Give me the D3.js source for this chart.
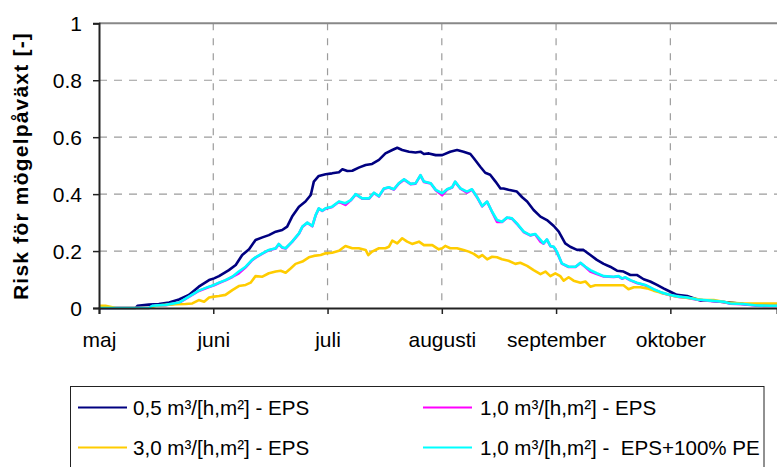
<!DOCTYPE html>
<html>
<head>
<meta charset="utf-8">
<script src="https://cdn.jsdelivr.net/npm/d3@7/dist/d3.min.js"></script>
<style>
  html, body { margin: 0; padding: 0; background: #fff; }
  svg { display: block; }
  text { font-family: "Liberation Sans", Arial, sans-serif; fill: #000; }
</style>
</head>
<body>
<svg id="chart" width="777" height="467"></svg>
<script>
// Daily mould-growth risk, May through October; day 0 = 1 May.
const monthLabels = ["maj", "juni", "juli", "augusti", "september", "oktober"];
const monthStartDays = [0, 30, 60, 90, 120, 150];
const yTicks = [0, 0.2, 0.4, 0.6, 0.8, 1];

const seriesNames = [
  "0,5 m³/[h,m²] - EPS",
  "1,0 m³/[h,m²] - EPS",
  "3,0 m³/[h,m²] - EPS",
  "1,0 m³/[h,m²] -  EPS+100% PE"
];
const seriesColors = ["#000080", "#ff00ff", "#ffcc00", "#00ffff"];

// [day, risk]
const eps05 = [[0,0],[9.6,0],[10.1,0.008],[13.1,0.012],[15.7,0.014],[18.4,0.019],[21,0.030],[23.6,0.046],[26.2,0.075],[28.9,0.098],[30.2,0.104],[31.5,0.112],[34.1,0.133],[35.9,0.151],[37.6,0.186],[39.4,0.206],[41.1,0.239],[42.9,0.248],[44.6,0.256],[46.4,0.268],[48.1,0.274],[49.4,0.286],[50.7,0.321],[52.5,0.356],[54.2,0.374],[55.6,0.397],[56.4,0.444],[57.7,0.464],[59.5,0.470],[61.2,0.473],[63,0.477],[63.9,0.487],[65.2,0.481],[66.5,0.482],[68.2,0.493],[70,0.502],[71.7,0.506],[73.5,0.520],[75.2,0.543],[77,0.555],[78.3,0.563],[79.6,0.555],[81.4,0.549],[83.1,0.546],[84.4,0.549],[85.3,0.541],[86.6,0.543],[88.4,0.537],[90.1,0.537],[92.2,0.549],[94,0.555],[95.7,0.549],[97.5,0.541],[98.4,0.526],[100.1,0.496],[101.4,0.475],[102.7,0.468],[104.1,0.444],[105.4,0.420],[106.2,0.420],[107.5,0.415],[109.7,0.409],[111.1,0.389],[112.4,0.374],[114.1,0.344],[115.9,0.321],[117.6,0.309],[119.4,0.288],[120.7,0.268],[122.4,0.227],[123.7,0.215],[125.5,0.204],[127.2,0.204],[129,0.186],[130.7,0.169],[132.5,0.155],[134.2,0.145],[136,0.131],[137.7,0.128],[139.5,0.116],[141.2,0.116],[143,0.101],[144.7,0.093],[146.5,0.081],[148.2,0.069],[150,0.057],[151.7,0.046],[154.4,0.042],[156.1,0.034],[157.9,0.026],[160.5,0.026],[163.1,0.022],[165.7,0.019],[169.2,0.014],[172.7,0.011],[176.2,0.008],[178,0.008]];

const eps10 = [[0,0],[13.1,0],[14,0.007],[17.5,0.010],[21,0.018],[23.6,0.039],[26.2,0.060],[28.9,0.074],[30.2,0.080],[31.5,0.088],[33.2,0.097],[35,0.109],[36.7,0.122],[38.5,0.143],[40.2,0.168],[41.1,0.177],[42.9,0.191],[44.6,0.203],[46.4,0.209],[47.2,0.224],[48.1,0.212],[49,0.209],[50.7,0.232],[52.5,0.261],[53.4,0.285],[54.7,0.299],[56,0.287],[56.9,0.326],[57.7,0.349],[58.6,0.341],[59.5,0.349],[61.2,0.355],[63,0.373],[64.7,0.362],[66.1,0.378],[67.4,0.399],[69.1,0.384],[70.9,0.384],[72.2,0.404],[73.5,0.392],[74.8,0.419],[76.1,0.423],[77.4,0.416],[78.7,0.437],[80.1,0.451],[81.8,0.435],[83.1,0.437],[84.4,0.466],[85.3,0.443],[87.1,0.437],[88.4,0.414],[90.1,0.396],[91.4,0.416],[92.7,0.423],[93.5,0.443],[94.9,0.419],[96.6,0.405],[97.9,0.416],[99.2,0.390],[100.6,0.357],[101.9,0.373],[103.2,0.337],[104.5,0.302],[105.8,0.302],[107.1,0.317],[108.4,0.314],[109.7,0.296],[111.5,0.267],[113.2,0.255],[114.5,0.259],[115.9,0.233],[116.7,0.226],[117.6,0.240],[118.5,0.217],[119.4,0.214],[120.2,0.197],[121.5,0.156],[123.3,0.144],[125.1,0.144],[126.4,0.158],[127.7,0.144],[129,0.128],[130.7,0.119],[132.5,0.111],[135.1,0.109],[136.4,0.111],[137.3,0.103],[138.2,0.107],[139.5,0.097],[141.2,0.088],[143.4,0.080],[145.6,0.065],[147.8,0.053],[150,0.045],[152.2,0.039],[154.4,0.036],[157,0.029],[160.5,0.025],[164,0.021],[165.7,0.015],[169.2,0.013],[172.7,0.008],[176.2,0.007],[178,0.007]];

const eps30 = [[0,0.008],[1.7,0.008],[4.4,0],[13.1,0],[14.9,0.008],[17.5,0.011],[20.1,0.013],[22.7,0.014],[24.5,0.016],[26.2,0.028],[27.6,0.022],[28.9,0.037],[30.2,0.040],[31.5,0.042],[33.2,0.046],[35,0.063],[36.7,0.077],[38.5,0.081],[39.8,0.089],[41.1,0.112],[42.9,0.110],[44.6,0.122],[46.4,0.128],[47.7,0.131],[49,0.124],[50.3,0.139],[51.6,0.155],[53.4,0.163],[55.1,0.178],[56.4,0.183],[58.2,0.186],[59.5,0.192],[61.2,0.194],[63,0.201],[64.7,0.218],[66.5,0.210],[68.2,0.210],[70,0.204],[70.7,0.186],[71.7,0.198],[73.5,0.210],[75.2,0.210],[76.1,0.215],[77,0.237],[78.3,0.227],[79.6,0.245],[80.9,0.233],[82.2,0.225],[84,0.233],[85.3,0.221],[87.5,0.221],[89.2,0.206],[90.1,0.210],[90.9,0.218],[92.2,0.210],[94,0.210],[95.7,0.204],[97.1,0.198],[98.4,0.190],[99.7,0.178],[100.6,0.186],[101.9,0.171],[103.2,0.180],[104.5,0.178],[105.8,0.171],[107.5,0.166],[109.3,0.155],[110.6,0.159],[112.4,0.148],[114.1,0.133],[115.9,0.119],[117.2,0.128],[118.5,0.112],[119.8,0.122],[121.1,0.112],[122,0.096],[123.3,0.108],[124.6,0.096],[126.4,0.089],[127.7,0.093],[129,0.075],[130.3,0.080],[132.5,0.080],[135.1,0.080],[137.7,0.080],[139,0.066],[140.4,0.073],[142.1,0.073],[143.9,0.069],[145.6,0.061],[147.4,0.054],[149.1,0.048],[150.9,0.042],[153.5,0.037],[156.1,0.033],[158.7,0.028],[161.4,0.028],[164.9,0.019],[169.2,0.016],[172.7,0.016],[178,0.016]];

const eps10pe = [[0,0],[13.1,0],[14,0.008],[17.5,0.011],[21,0.019],[23.6,0.040],[26.2,0.061],[28.9,0.075],[30.2,0.081],[31.5,0.089],[33.2,0.098],[35,0.110],[36.7,0.128],[38.5,0.145],[40.2,0.169],[41.1,0.178],[42.9,0.192],[44.6,0.204],[46.4,0.210],[47.2,0.225],[48.1,0.213],[49,0.210],[50.7,0.233],[52.5,0.262],[53.4,0.286],[54.7,0.300],[56,0.288],[56.9,0.327],[57.7,0.350],[58.6,0.342],[59.5,0.350],[61.2,0.356],[63,0.374],[64.7,0.368],[66.1,0.379],[67.4,0.400],[69.1,0.385],[70.9,0.385],[72.2,0.405],[73.5,0.393],[74.8,0.420],[76.1,0.424],[77.4,0.417],[78.7,0.438],[80.1,0.452],[81.8,0.436],[83.1,0.438],[84.4,0.467],[85.3,0.444],[87.1,0.438],[88.4,0.415],[90.1,0.403],[91.4,0.417],[92.7,0.424],[93.5,0.444],[94.9,0.420],[96.6,0.409],[97.9,0.417],[99.2,0.391],[100.6,0.358],[101.9,0.374],[103.2,0.338],[104.5,0.309],[105.8,0.303],[107.1,0.318],[108.4,0.315],[109.7,0.297],[111.5,0.268],[113.2,0.256],[114.5,0.260],[115.9,0.239],[116.7,0.227],[117.6,0.241],[118.5,0.218],[119.4,0.215],[120.2,0.198],[121.5,0.157],[123.3,0.145],[125.1,0.145],[126.4,0.159],[127.7,0.145],[129,0.133],[130.7,0.122],[132.5,0.112],[135.1,0.110],[136.4,0.112],[137.3,0.104],[138.2,0.108],[139.5,0.098],[141.2,0.089],[143.4,0.081],[145.6,0.066],[147.8,0.054],[150,0.046],[152.2,0.040],[154.4,0.037],[157,0.030],[160.5,0.026],[164,0.022],[165.7,0.016],[169.2,0.014],[172.7,0.009],[176.2,0.008],[178,0.008]];

// drawing order: navy first, cyan last on top
const seriesData = [eps05, eps10, eps30, eps10pe];

const svg = d3.select("#chart");
const plotLeft = 99, plotRight = 777, plotTop = 23.3, plotBottom = 308;

const x = d3.scaleLinear().domain([0, 178]).range([plotLeft, plotRight]);
const y = d3.scaleLinear().domain([0, 1]).range([plotBottom, plotTop]);

// horizontal gridlines
svg.append("g")
  .selectAll("line")
  .data(yTicks.filter(v => v > 0 && v < 1))
  .join("line")
  .attr("x1", plotLeft).attr("x2", plotRight)
  .attr("y1", d => y(d)).attr("y2", d => y(d))
  .attr("stroke", "#9c9c9c").attr("stroke-width", 1.2)
  .attr("stroke-dasharray", "8,7");

// vertical gridlines at month starts
svg.append("g")
  .selectAll("line")
  .data(monthStartDays.slice(1))
  .join("line")
  .attr("x1", d => x(d)).attr("x2", d => x(d))
  .attr("y1", plotTop).attr("y2", plotBottom)
  .attr("stroke", "#9c9c9c").attr("stroke-width", 1.2)
  .attr("stroke-dasharray", "7,8");

// top frame line
svg.append("line")
  .attr("x1", plotLeft).attr("x2", plotRight)
  .attr("y1", y(1)).attr("y2", y(1))
  .attr("stroke", "#888").attr("stroke-width", 2);

// series
const line = d3.line().x(d => x(d[0])).y(d => y(d[1]));
svg.append("g")
  .selectAll("path")
  .data(seriesData)
  .join("path")
  .attr("d", d => line(d))
  .attr("fill", "none")
  .attr("stroke", (d, i) => seriesColors[i])
  .attr("stroke-width", 2.6)
  .attr("stroke-linejoin", "round");

// y axis
const yAxis = d3.axisLeft(y)
  .tickValues(yTicks)
  .tickFormat(d => d === 0 || d === 1 ? String(d) : d.toFixed(1))
  .tickSize(6).tickPadding(11);
const gy = svg.append("g").attr("transform", `translate(${plotLeft},0)`).call(yAxis);
gy.select(".domain").attr("stroke", "#222").attr("stroke-width", 2);
gy.selectAll(".tick line").attr("stroke", "#222").attr("stroke-width", 1.5);
gy.selectAll(".tick text")
  .style("font-family", '"Liberation Sans", Arial, sans-serif')
  .style("font-size", "21px").attr("fill", "#000").attr("dy", "0.36em");

// x axis
const xAxis = d3.axisBottom(x)
  .tickValues(monthStartDays)
  .tickFormat((d, i) => monthLabels[i])
  .tickSize(6).tickPadding(18);
const gx = svg.append("g").attr("transform", `translate(0,${plotBottom})`).call(xAxis);
gx.select(".domain").attr("stroke", "#222").attr("stroke-width", 2);
gx.selectAll(".tick line").attr("stroke", "#222").attr("stroke-width", 1.5);
gx.selectAll(".tick text")
  .style("font-family", '"Liberation Sans", Arial, sans-serif')
  .style("font-size", "21px").attr("fill", "#000");

// y axis title
svg.append("text")
  .attr("transform", "translate(28,166) rotate(-90)")
  .attr("text-anchor", "middle")
  .style("font-size", "21px").style("font-weight", "bold")
  .style("letter-spacing", "1.2px")
  .text("Risk för mögelpåväxt [-]");

// legend
const legend = svg.append("g");
legend.append("rect")
  .attr("x", 70.5).attr("y", 386.5)
  .attr("width", 693.5).attr("height", 100)
  .attr("fill", "#fff").attr("stroke", "#222").attr("stroke-width", 1);

const legendPos = [
  { lx: 78, tx: 133, cy: 407.5 },
  { lx: 423, tx: 480, cy: 407.5 },
  { lx: 78, tx: 133, cy: 447.5 },
  { lx: 423, tx: 480, cy: 447.5 }
];
seriesNames.forEach((name, i) => {
  const p = legendPos[i];
  legend.append("line")
    .attr("x1", p.lx).attr("x2", p.lx + 49)
    .attr("y1", p.cy).attr("y2", p.cy)
    .attr("stroke", seriesColors[i]).attr("stroke-width", 2);
  legend.append("text")
    .attr("x", p.tx).attr("y", p.cy + 7)
    .style("font-size", "20.6px")
    .style("white-space", "pre")
    .text(name);
});
</script>
</body>
</html>
